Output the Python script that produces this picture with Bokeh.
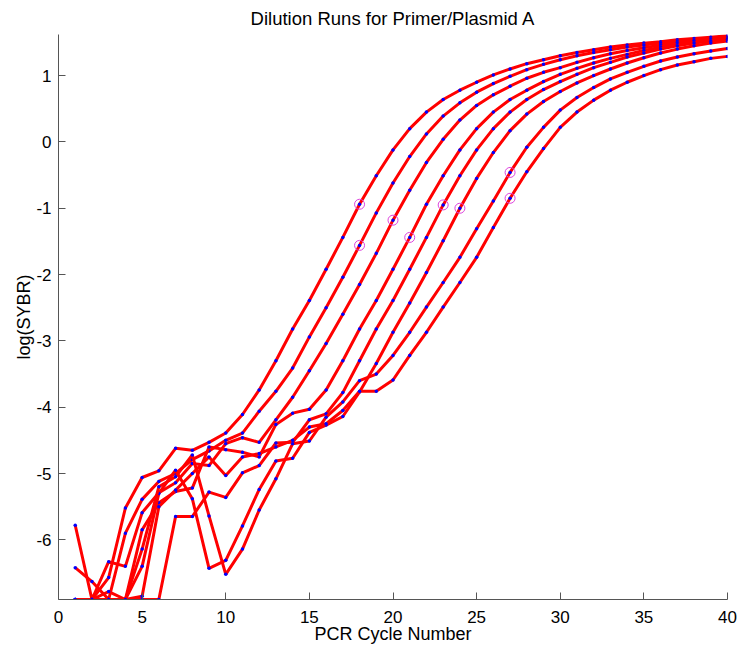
from bokeh.plotting import figure
from bokeh.models import Range1d, FixedTicker
from bokeh.embed import file_html
from bokeh.resources import INLINE

cycles = list(range(1, 41))

run1 = [-6.90, -6.90, -6.57, -5.52, -5.06, -4.96, -4.62, -4.65, -4.53, -4.39,
        -4.11, -3.74, -3.30, -2.82, -2.39, -1.92, -1.44, -0.94, -0.51, -0.12,
        0.20, 0.45, 0.64, 0.78, 0.90, 1.01, 1.10, 1.18, 1.24, 1.30,
        1.35, 1.39, 1.43, 1.46, 1.49, 1.51, 1.54, 1.56, 1.58, 1.60]
run2 = [-6.42, -6.63, -6.90, -5.90, -5.39, -5.12, -5.00, -4.79, -4.66, -4.50,
        -4.39, -4.06, -3.76, -3.41, -2.94, -2.50, -2.04, -1.56, -1.07, -0.62,
        -0.22, 0.12, 0.39, 0.59, 0.75, 0.88, 0.99, 1.09, 1.17, 1.24,
        1.30, 1.35, 1.39, 1.43, 1.46, 1.49, 1.52, 1.54, 1.56, 1.58]
run3 = [-5.78, -6.90, -6.33, -6.40, -5.59, -5.29, -5.14, -4.85, -4.88, -4.55,
        -4.46, -4.53, -4.19, -3.85, -3.45, -3.04, -2.60, -2.15, -1.68, -1.18,
        -0.73, -0.31, 0.04, 0.33, 0.55, 0.71, 0.84, 0.96, 1.05, 1.12,
        1.20, 1.27, 1.33, 1.38, 1.42, 1.46, 1.50, 1.53, 1.55, 1.57]
run4 = [-6.90, -6.90, -6.78, -6.90, -5.85, -5.44, -5.27, -5.22, -4.60, -4.64,
        -4.68, -4.75, -4.26, -4.09, -4.03, -3.74, -3.30, -2.82, -2.39, -1.92,
        -1.44, -0.94, -0.51, -0.12, 0.20, 0.45, 0.64, 0.78, 0.91, 1.02,
        1.11, 1.19, 1.26, 1.32, 1.38, 1.43, 1.47, 1.50, 1.53, 1.56]
run5 = [-6.90, -6.90, -6.90, -6.90, -6.90, -6.90, -5.65, -5.65, -5.28, -5.36,
        -4.99, -4.88, -4.54, -4.53, -4.19, -4.10, -3.78, -3.30, -2.82, -2.39,
        -1.92, -1.44, -0.95, -0.51, -0.12, 0.20, 0.45, 0.64, 0.79, 0.91,
        1.02, 1.12, 1.20, 1.28, 1.34, 1.40, 1.45, 1.49, 1.52, 1.55]
run6 = [-6.90, -6.90, -6.90, -6.90, -6.40, -5.30, -4.95, -5.38, -6.43, -6.31,
        -5.79, -5.24, -4.81, -4.77, -4.38, -4.27, -4.14, -3.77, -3.34, -2.87,
        -2.43, -1.97, -1.49, -1.00, -0.55, -0.16, 0.17, 0.42, 0.61, 0.76,
        0.89, 1.00, 1.10, 1.19, 1.27, 1.34, 1.40, 1.45, 1.49, 1.52]
run7 = [-6.90, -6.90, -6.90, -6.90, -6.14, -5.20, -5.05, -4.72, -5.64, -6.52,
        -6.14, -5.55, -5.08, -4.55, -4.51, -4.15, -3.92, -3.60, -3.50, -3.22,
        -2.87, -2.49, -2.12, -1.74, -1.31, -0.89, -0.46, -0.08, 0.22, 0.48,
        0.67, 0.82, 0.95, 1.05, 1.14, 1.22, 1.28, 1.33, 1.37, 1.41]
run8 = [-6.90, -6.90, -6.90, -6.90, -6.85, -5.50, -5.25, -5.00, -4.75, -5.03,
        -4.75, -4.70, -4.60, -4.50, -4.30, -4.25, -4.05, -3.76, -3.76, -3.59,
        -3.22, -2.87, -2.49, -2.12, -1.74, -1.29, -0.85, -0.45, -0.10, 0.22,
        0.45, 0.63, 0.78, 0.90, 1.00, 1.09, 1.16, 1.21, 1.26, 1.29]

runs = [run1, run2, run3, run4, run5, run6, run7, run8]
marked_cycles = [18, 18, 20, 21, 23, 24, 27, 27]

x_ticks = [0, 5, 10, 15, 20, 25, 30, 35, 40]
y_ticks = [-6, -5, -4, -3, -2, -1, 0, 1]
y_tick_labels = ["-6", "-5", "-4", "-3", "-2", "-1", "0", "1"]

FONT = "Liberation Sans"

p = figure(width=740, height=651, output_backend="svg", toolbar_location=None,
           x_range=Range1d(0, 40), y_range=Range1d(-6.9, 1.62),
           min_border_left=58, min_border_right=13, min_border_top=34,
           min_border_bottom=52, title="Dilution Runs for Primer/Plasmid A")
p.background_fill_color = "white"
p.border_fill_color = "white"
p.outline_line_color = None
p.grid.visible = False

p.title.align = "center"
p.title.text_font = FONT
p.title.text_font_size = "18.5px"
p.title.text_font_style = "normal"
p.title.text_color = "black"
p.title.standoff = 11

for ax, ticks in ((p.xaxis, x_ticks), (p.yaxis, y_ticks)):
    ax.ticker = FixedTicker(ticks=ticks)
    ax.major_tick_in = 7
    ax.major_tick_out = 0
    ax.minor_tick_in = 0
    ax.minor_tick_out = 0
    ax.axis_line_color = "#555555"
    ax.major_tick_line_color = "#555555"
    ax.major_label_text_font = FONT
    ax.major_label_text_font_size = "17px"
    ax.major_label_text_color = "black"
    ax.axis_label_text_font = FONT
    ax.axis_label_text_font_size = "18px"
    ax.axis_label_text_font_style = "normal"
    ax.axis_label_text_color = "black"

p.yaxis.major_label_overrides = dict(zip(y_ticks, y_tick_labels))
p.xaxis.axis_label = "PCR Cycle Number"
p.yaxis.axis_label = "log(SYBR)"
p.xaxis.major_label_standoff = 11
p.xaxis.axis_label_standoff = -2
p.yaxis.major_label_standoff = 7
p.yaxis.axis_label_standoff = -1

for r in runs:
    p.line(cycles, r, line_color="#ff0000", line_width=3)
    p.scatter(cycles, r, size=3.5, marker="circle", fill_color="#0000ff",
              line_color="#0000ff", line_width=0)

mx = marked_cycles
my = [runs[i][c - 1] for i, c in enumerate(marked_cycles)]
p.scatter(mx, my, size=10, marker="circle", fill_color=None,
          line_color="#dd44dd", line_width=1)

open("out.html", "w").write(file_html(p, INLINE))
